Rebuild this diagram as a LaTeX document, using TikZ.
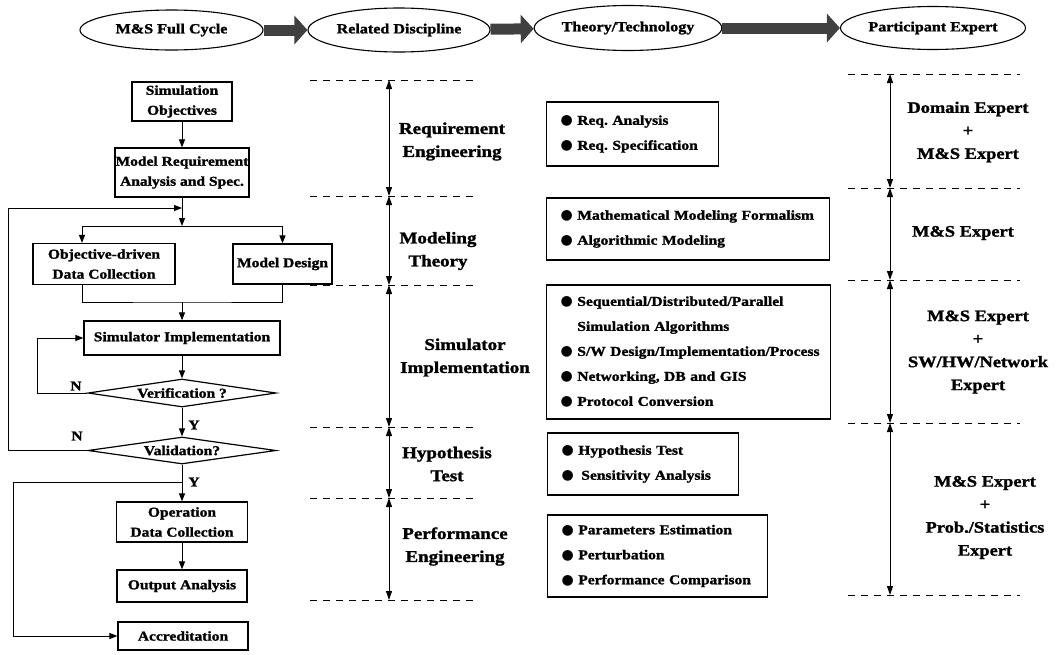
\documentclass[tikz,border=0pt]{standalone}
\usepackage{fontspec}
\setmainfont{Liberation Serif}[FakeStretch=1.15,BoldFeatures={FakeBold=1.5}]
\newfontfamily\dejavu{DejaVu Sans}
\usetikzlibrary{shapes.geometric,arrows.meta,positioning}
\frenchspacing
\newcommand{\blt}{{\dejavu\fontsize{14}{14}\selectfont ●}\ }
\newcommand{\techitem}[1]{\mbox{\blt #1}}
\tikzset{
    hd/.style={draw,ellipse,line width=1.1pt,inner sep=0pt,font=\fontsize{14}{16}\selectfont\bfseries},
    hdarrow/.style={line width=11pt,black!75,-{Triangle[length=13pt,width=28pt]}},
    box/.style={draw,line width=1.2pt,inner sep=0pt,align=center,font=\fontsize{13.5}{20}\selectfont\bfseries},
    dec/.style={draw,diamond,aspect=6.7,line width=1.2pt,inner sep=0pt,font=\fontsize{13.5}{16}\selectfont\bfseries},
    flow/.style={line width=1pt,-{Triangle[length=8pt,width=6pt]}},
    yn/.style={font=\fontsize{13.5}{16}\selectfont\bfseries},
    lvl/.style={line width=0.8pt,dash pattern=on 7pt off 6pt},
    dbl/.style={line width=1pt,{Triangle[length=9pt,width=6pt]}-{Triangle[length=9pt,width=6pt]}},
    disc/.style={align=center,font=\fontsize{16.5}{23}\selectfont\bfseries},
    tech/.style={draw,line width=1.2pt,inner xsep=14pt,inner ysep=0pt,align=left,anchor=west,font=\fontsize{13.5}{25}\selectfont\bfseries},
    who/.style={align=center,font=\fontsize{16}{23}\selectfont\bfseries}
}

\begin{document}
\begin{tikzpicture}[x=1pt,y=-1pt]
    \useasboundingbox (0,0) rectangle (1058,654);

    \node[hd,minimum width=183pt,minimum height=40pt] (hd1) at (171.5,30) {M\&S Full Cycle};
    \node[hd,minimum width=182pt,minimum height=44pt] (hd2) at (399,30) {Related Discipline};
    \node[hd,minimum width=173pt,minimum height=45pt] (hd3) at (628,28) {Theory/Technology};
    \node[hd,minimum width=185pt,minimum height=43pt] (hd4) at (933,28) {Participant Expert};
    \draw[hdarrow] (hd1) -- (hd2);
    \draw[hdarrow] (hd2) -- (hd3);
    \draw[hdarrow] (hd3) -- (hd4);

    \node[box,minimum width=100pt,minimum height=39pt] (obj) at (182,101.5) {Simulation\\Objectives};
    \node[box,minimum width=134pt,minimum height=49pt] (req) at (182,172.5) {Model Requirement\\Analysis and Spec.};
    \node[box,minimum width=142pt,minimum height=41pt] (odc) at (104,264) {Objective-driven\\Data Collection};
    \node[box,minimum width=99pt,minimum height=40pt] (mdes) at (282.5,264) {Model Design};
    \node[box,minimum width=196pt,minimum height=34pt] (simp) at (182,338) {Simulator Implementation};
    \node[dec,minimum width=188pt,minimum height=28pt] (verif) at (182,393) {Verification ?};
    \node[dec,minimum width=188pt,minimum height=27pt] (valid) at (182,450.5) {Validation?};
    \node[box,minimum width=131pt,minimum height=40pt] (opdc) at (182,522) {Operation\\Data Collection};
    \node[box,minimum width=130pt,minimum height=32pt] (outan) at (182,586) {Output Analysis};
    \node[box,minimum width=130pt,minimum height=28pt] (accr) at (183,636) {Accreditation};

    \coordinate (loopin) at (182,208);
    \coordinate (split) at (182,226);
    \coordinate (join) at (182,302);
    \coordinate (byp) at (182,482);
    \draw[flow] (obj) -- (req);
    \draw[flow] (req) -- (split);
    \draw[flow] (split) -| ([xshift=-22pt]odc.north);
    \draw[flow] (split) -| (mdes);
    \draw ([xshift=-22pt]odc.south) |- (join) -| (mdes);
    \draw[flow] (join) -- (simp);
    \draw[flow] (simp) -- (verif);
    \draw[flow] (verif.west) -- ++(-50,0) |- (simp);
    \node[yn] (n1) at (76,386) {N};
    \draw[flow] (verif) -- (valid);
    \node[yn] (y1) at (194,425) {Y};
    \draw[flow] (valid.west) -- ++(-79,0) |- (loopin);
    \node[yn] (n2) at (77,436) {N};
    \draw[flow] (valid) -- (opdc);
    \node[yn] (y2) at (194,482) {Y};
    \draw[flow] (byp) -- ++(-169,0) |- (accr);
    \draw[flow] (opdc) -- (outan);

    \coordinate (m0) at (389,80);
    \coordinate (m1) at (389,196);
    \coordinate (m2) at (389,285);
    \coordinate (m3) at (389,427);
    \coordinate (m4) at (389,498);
    \coordinate (m5) at (389,600);
    \foreach \m in {m0,m1,m2,m3,m4,m5}
        \draw[lvl] (\m) ++(-79,0) -- ++(167,0);
    \draw[dbl] (m0) -- (m1);
    \draw[dbl] (m1) -- (m2);
    \draw[dbl] (m2) -- (m3);
    \draw[dbl] (m3) -- (m4);
    \draw[dbl] (m4) -- (m5);
    \node[disc] (d1) at (452,141.5) {Requirement\\Engineering};
    \node[disc] (d2) at (438,251) {Modeling\\Theory};
    \node[disc] (d3) at (465,357.5) {Simulator\\Implementation};
    \node[disc] (d4) at (447,464) {Hypothesis\\Test};
    \node[disc] (d5) at (455,546.5) {Performance\\Engineering};

    \node[tech,text width=144pt,minimum height=64pt] (t1) at (546,134)
        {\techitem{Req. Analysis}\\\techitem{Req. Specification}};
    \node[tech,text width=255pt,minimum height=62pt] (t2) at (546,229)
        {\techitem{Mathematical Modeling Formalism}\\\techitem{Algorithmic Modeling}};
    \node[tech,text width=256pt,minimum height=134pt] (t3) at (546,352)
        {\techitem{Sequential/Distributed/Parallel}\\\mbox{\phantom{\blt}Simulation Algorithms}\\
         \techitem{S/W Design/Implementation/Process}\\\techitem{Networking, DB and GIS}\\
         \techitem{Protocol Conversion}};
    \node[tech,text width=163pt,minimum height=62pt] (t4) at (547,464)
        {\techitem{Hypothesis Test}\\\techitem{\hspace{3pt}Sensitivity Analysis}};
    \node[tech,text width=192pt,minimum height=82pt] (t5) at (547,556)
        {\techitem{Parameters Estimation}\\\techitem{Perturbation}\\\techitem{Performance Comparison}};

    \coordinate (p0) at (890,74);
    \coordinate (p1) at (890,188);
    \coordinate (p2) at (890,280);
    \coordinate (p3) at (890,423);
    \coordinate (p4) at (890,595);
    \foreach \p in {p0,p1,p2,p3,p4}
        \draw[lvl] (\p) ++(-42,0) -- ++(172,0);
    \draw[dbl] (p0) -- (p1);
    \draw[dbl] (p1) -- (p2);
    \draw[dbl] (p2) -- (p3);
    \draw[dbl] (p3) -- (p4);
    \node[who] (w1) at (968,132) {Domain Expert\\+\\M\&S Expert};
    \node[who] (w2) at (963,233) {M\&S Expert};
    \node[who] (w3) at (978,352) {M\&S Expert\\+\\SW/HW/Network\\Expert};
    \node[who] (w4) at (985,517.5) {M\&S Expert\\+\\Prob./Statistics\\Expert};
\end{tikzpicture}
\end{document}
